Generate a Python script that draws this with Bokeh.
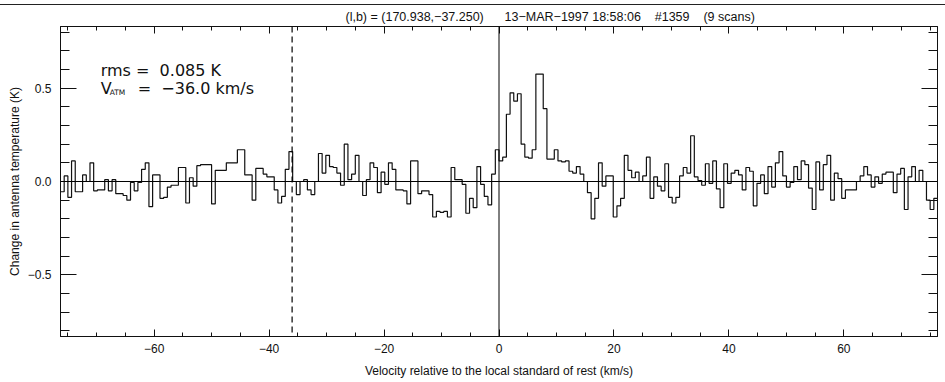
import numpy as np
from bokeh.plotting import figure
from bokeh.models import Range1d, FixedTicker, LinearAxis, Span, Label, Div
from bokeh.layouts import column
from bokeh.embed import file_html
from bokeh.resources import INLINE

# ---------------- data ----------------
NB = "\u00a0"
TITLE = ("(l,b) = (170.938,\u221237.250)" + NB * 6 + "13\u2212MAR\u22121997 18:58:06"
         + NB * 4 + "#1359" + NB * 4 + "(9 scans)")
X_LABEL = "Velocity relative to the local standard of rest (km/s)"
Y_LABEL = "Change in antenna temperature (K)"

V_START = -76.3          # km/s, lower edge of first channel
CHAN_WIDTH = 0.6412      # km/s per channel
RMS_K = 0.085
V_ATM = -36.0

temperature = [
    -0.055, 0.03, -0.085, 0.11, -0.055, -0.055, 0.035, 0.0, 0.10, -0.05,
    -0.045, -0.045, 0.01, -0.05, 0.01, -0.065, -0.065, -0.075, -0.10, -0.005,
    -0.05, -0.005, 0.065, 0.10, -0.135, 0.035, 0.035, -0.09, -0.085, -0.03,
    -0.02, -0.02, 0.075, 0.075, -0.115, 0.02, -0.025, 0.085, 0.09, 0.09,
    0.09, -0.12, 0.06, 0.06, 0.06, 0.10, 0.10, 0.10, 0.17, 0.17,
    0.035, 0.035, -0.10, 0.07, 0.07, 0.04, 0.025, 0.025, -0.045, -0.115,
    -0.08, 0.065, 0.16, 0.0, -0.07, 0.0, 0.01, -0.045, -0.07, 0.0,
    0.15, 0.045, 0.14, 0.08, 0.075, 0.045, -0.02, 0.20, 0.01, 0.04,
    0.14, 0.0, -0.075, 0.01, 0.10, 0.075, -0.06, 0.05, -0.015, 0.10,
    0.065, -0.045, -0.045, -0.05, -0.12, 0.11, 0.11, -0.065, -0.05, -0.05,
    -0.07, -0.19, -0.16, -0.165, -0.16, -0.19, 0.075, 0.01, 0.01, -0.015,
    -0.17, -0.09, -0.14, 0.08, -0.015, -0.08, -0.125, 0.04, 0.17, 0.11,
    0.13, 0.36, 0.475, 0.43, 0.47, 0.20, 0.13, 0.125, 0.17, 0.575,
    0.575, 0.39, 0.12, 0.12, 0.17, 0.11, 0.105, 0.11, 0.055, 0.045,
    0.08, 0.04, 0.0, -0.06, -0.20, -0.09, 0.10, -0.025, 0.03, 0.03,
    -0.19, -0.13, -0.09, 0.14, 0.06, 0.02, 0.05, 0.0, 0.03, 0.13,
    -0.09, 0.025, -0.025, -0.05, 0.095, -0.085, -0.115, -0.085, 0.03, 0.075,
    0.045, 0.245, 0.025, 0.005, -0.02, 0.095, -0.01, 0.11, -0.04, -0.14,
    0.095, -0.01, 0.045, 0.06, 0.035, -0.045, 0.075, 0.055, -0.13, -0.01,
    0.035, -0.065, 0.08, -0.03, 0.10, 0.16, 0.03, -0.03, -0.005, 0.08,
    0.01, 0.11, 0.09, -0.035, -0.15, 0.105, -0.045, 0.09, 0.14, -0.10,
    0.045, 0.015, -0.09, -0.045, -0.045, -0.045, 0.0, 0.03, 0.08, 0.035,
    -0.03, 0.025, -0.01, 0.04, 0.05, 0.05, -0.06, 0.04, 0.07, -0.15,
    0.025, 0.08, 0.0, 0.06, 0.0, -0.10, -0.15, -0.09,
]

x_major_ticks = [-60, -40, -20, 0, 20, 40, 60]
x_tick_labels = ["\u221260", "\u221240", "\u221220", "0", "20", "40", "60"]
x_minor_ticks = [-75, -70, -65, -60, -55, -50, -45, -40, -35, -30, -25, -20, -15, -10, -5,
                 0, 5, 10, 15, 20, 25, 30, 35, 40, 45, 50, 55, 60, 65, 70, 75]
y_major_ticks = [-0.5, 0.0, 0.5]
y_tick_labels = ["\u22120.5", "0.0", "0.5"]
y_minor_ticks = [-0.8, -0.7, -0.6, -0.5, -0.4, -0.3, -0.2, -0.1, 0.0,
                 0.1, 0.2, 0.3, 0.4, 0.5, 0.6, 0.7, 0.8]

X_RANGE = (-76.3, 76.3)
Y_RANGE = (-0.83, 0.83)

# ---------------- figure ----------------
FONT = "Liberation Sans"
ANN_FONT = "DejaVu Sans"
INK = "#111111"

rule = Div(text="", width=945, height=4, margin=0,
           styles={"border-bottom": "1px solid #222", "box-sizing": "content-box"})

p = figure(width=945, height=377, output_backend="svg", toolbar_location=None,
           x_range=Range1d(*X_RANGE), y_range=Range1d(*Y_RANGE),
           title=TITLE, margin=0,
           min_border_left=60, min_border_right=8, min_border_top=21, min_border_bottom=46,
           background_fill_color="white", border_fill_color="white")
p.xgrid.visible = False
p.ygrid.visible = False
p.outline_line_color = INK
p.outline_line_width = 1

p.title.align = "left"
p.title.offset = 285
p.title.text_font = FONT
p.title.text_font_size = "12.5px"
p.title.text_font_style = "normal"
p.title.text_color = INK
p.title.standoff = 5


def style_axis(ax, major, minor, labels, tick_in, minor_in, show_labels):
    ax.ticker = FixedTicker(ticks=major, minor_ticks=minor)
    ax.major_label_overrides = {t: l for t, l in zip(major, labels)}
    ax.major_tick_in = tick_in
    ax.major_tick_out = 0
    ax.minor_tick_in = minor_in
    ax.minor_tick_out = 0
    ax.axis_line_color = INK
    ax.major_tick_line_color = INK
    ax.minor_tick_line_color = INK
    ax.major_label_text_font = FONT
    ax.major_label_text_color = INK
    ax.axis_label_text_font = FONT
    ax.axis_label_text_font_style = "normal"
    ax.axis_label_text_color = INK
    if not show_labels:
        ax.major_label_text_color = None
        ax.major_label_text_font_size = "1px"
        ax.major_label_standoff = 0


xb = p.xaxis[0]
style_axis(xb, x_major_ticks, x_minor_ticks, x_tick_labels, 7, 4, True)
xb.major_label_text_font_size = "12px"
xb.major_label_standoff = 7
xb.axis_label = X_LABEL
xb.axis_label_text_font_size = "12px"
xb.axis_label_standoff = 8

yl = p.yaxis[0]
style_axis(yl, y_major_ticks, y_minor_ticks, y_tick_labels, 16, 9, True)
yl.major_label_text_font_size = "12px"
yl.major_label_standoff = 9
yl.axis_label = Y_LABEL
yl.axis_label_text_font_size = "12px"
yl.axis_label_standoff = 3

xt = LinearAxis()
style_axis(xt, x_major_ticks, x_minor_ticks, x_tick_labels, 7, 4, False)
p.add_layout(xt, "above")

yr = LinearAxis()
style_axis(yr, y_major_ticks, y_minor_ticks, y_tick_labels, 16, 9, False)
p.add_layout(yr, "right")

# reference lines
p.add_layout(Span(location=0, dimension="width", line_color="black", line_width=1))
p.add_layout(Span(location=0, dimension="height", line_color="black", line_width=1))
p.add_layout(Span(location=V_ATM, dimension="height", line_color="black", line_width=1.2,
                  line_dash="6 4"))

# spectrum (histogram style)
edges = V_START + CHAN_WIDTH * np.arange(len(temperature) + 1)
p.step(x=edges, y=list(temperature) + [temperature[-1]], mode="after",
       line_color=INK, line_width=1.2)

# annotations
ann_x = -69.3
p.add_layout(Label(x=ann_x, y=0.597, text=f"rms ={NB}{NB}{RMS_K:.3f} K", text_font=ANN_FONT,
                   text_font_size="16px", text_color=INK, text_baseline="middle"))
p.add_layout(Label(x=ann_x, y=0.50, text="V", text_font=ANN_FONT,
                   text_font_size="16px", text_color=INK, text_baseline="middle"))
p.add_layout(Label(x=ann_x, y=0.50, x_offset=9, y_offset=-4, text="ATM", text_font=ANN_FONT,
                   text_font_size="7.5px", text_color=INK, text_baseline="middle"))
p.add_layout(Label(x=ann_x, y=0.50, x_offset=37,
                   text=f"={NB}{NB}{V_ATM:.1f} km/s".replace("-", "\u2212"), text_font=ANN_FONT,
                   text_font_size="16px", text_color=INK, text_baseline="middle"))

layout = column(rule, p, spacing=0, margin=0)
open("out.html", "w").write(file_html(layout, INLINE))
